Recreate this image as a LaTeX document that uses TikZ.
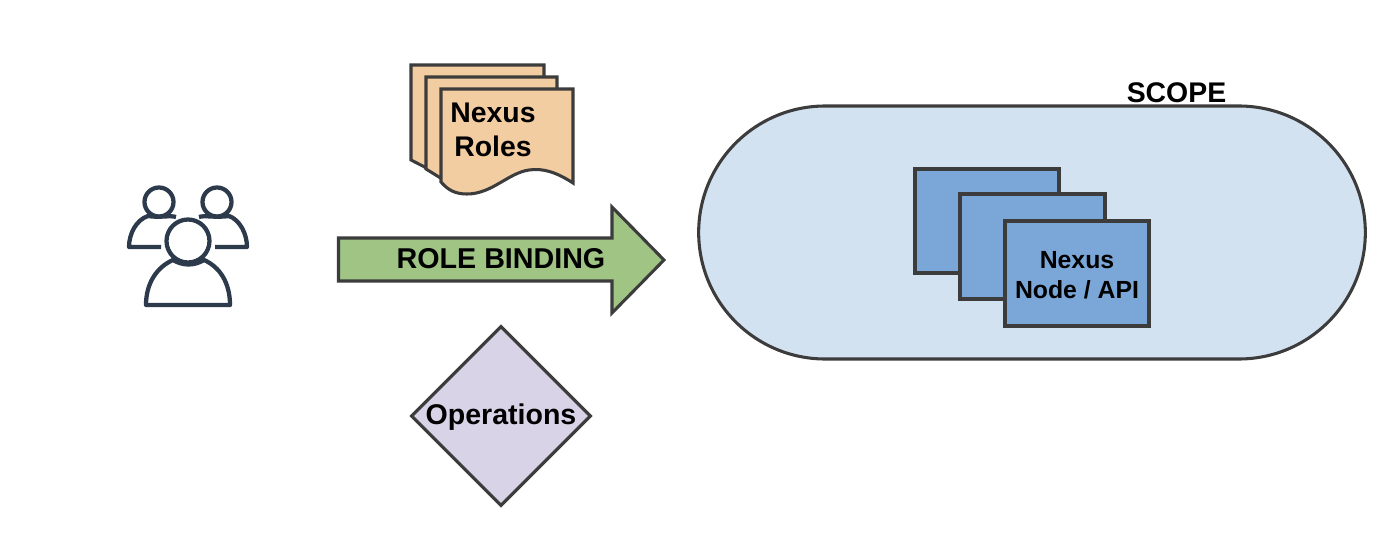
\documentclass[tikz,border=0pt]{standalone}
\usepackage{fontspec}
\usetikzlibrary{shapes.geometric,shapes.misc}
\setmainfont{Liberation Sans}
\definecolor{edge}{HTML}{3C3C3C}
\definecolor{icon}{HTML}{2C3A4C}
\definecolor{docfill}{HTML}{F3CDA2}
\definecolor{scopefill}{HTML}{D3E2F1}
\definecolor{boxfill}{HTML}{7BA7D8}
\definecolor{arrowfill}{HTML}{A0C483}
\definecolor{opfill}{HTML}{D8D3E7}
\tikzset{
  shapeline/.style={draw=edge,line width=2.3pt,line join=miter},
  iconline/.style={draw=icon,line width=3.2pt,line cap=butt,line join=round},
  lbl/.style={text=black,inner sep=0pt,align=center},
}
\begin{document}
\begin{tikzpicture}[x=0.75pt,y=-0.75pt]
\useasboundingbox (0,0) rectangle (1396,542);
% people
\draw[iconline] (159,202) circle[radius=14.5];
\draw[iconline] (217,202) circle[radius=14.5];
\draw[iconline] (176,217) .. controls (170,215) and (160,218) .. (148,216) .. controls (136,220) and (129,234) .. (129,247) -- (161,247);
\draw[iconline] (199,217) .. controls (205,215) and (215,218) .. (229,216) .. controls (240,220) and (247,234) .. (247,247) -- (215,247);
\draw[iconline,fill=white] (146,305) .. controls (146,283) and (157,267) .. (173,260) .. controls (183,266) and (194,266) .. (204,260) .. controls (220,267) and (230,283) .. (230,305) -- cycle;
\draw[iconline,fill=white] (188,241) circle[radius=21.5];
% documents
\draw[shapeline,fill=docfill] (411,65) -- (544,65) -- (544,110) -- (450,180) -- (411,160) -- cycle;
\draw[shapeline,fill=docfill] (426,77) -- (557,77) -- (557,120) -- (460,190) -- (426,169) -- cycle;
\draw[shapeline,fill=docfill] (441,89) -- (573,89) -- (573,183) .. controls (556,172) and (543,168) .. (529,170) .. controls (508,173) and (492,194) .. (467,194) .. controls (455,194) and (448,190) .. (441,182) -- cycle;
\node[lbl,font=\bfseries\fontsize{21.3}{25}\selectfont] (roles) at (493,130) {Nexus\\Roles};
% arrow
\draw[shapeline,fill=arrowfill] (338.5,238) -- (612,238) -- (612,207) -- (664,260) -- (612,313) -- (612,281) -- (338.5,281) -- cycle;
\node[lbl,font=\bfseries\fontsize{21.5}{24}\selectfont] (binding) at (501,259) {ROLE BINDING};
% operations
\node[shapeline,fill=opfill,diamond,minimum width=135pt,minimum height=135pt,inner sep=0pt,shape aspect=1] (ops) at (501,416) {};
\node[lbl,font=\bfseries\fontsize{21.4}{24}\selectfont] (opslabel) at (501,417.5) {Operations};
% scope
\node[shapeline,fill=scopefill,rounded rectangle,minimum width=500pt,minimum height=189.75pt,inner sep=0pt] (scopeshape) at (1032,232.5) {};
\node[lbl,font=\bfseries\fontsize{21.3}{24}\selectfont] (scope) at (1176.5,93) {SCOPE};
% node stack
\draw[shapeline,fill=boxfill] (915,169) rectangle (1059,273);
\draw[shapeline,fill=boxfill] (960,194) rectangle (1105,299);
\draw[shapeline,fill=boxfill] (1005,221) rectangle (1149,326);
\node[lbl,font=\bfseries\fontsize{18.6}{22.5}\selectfont] (api) at (1077,275) {Nexus\\Node / API};
\end{tikzpicture}
\end{document}
